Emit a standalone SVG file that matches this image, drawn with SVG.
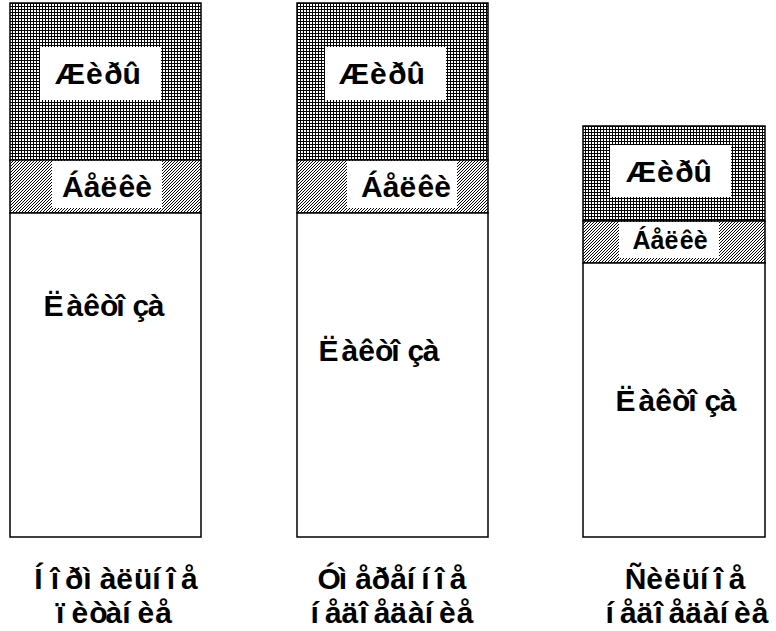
<svg xmlns="http://www.w3.org/2000/svg" width="776" height="631" viewBox="0 0 776 631">
<defs>
<pattern id="grid" width="3" height="3" patternUnits="userSpaceOnUse">
<rect width="3" height="3" fill="#000"/>
<rect x="1" y="1" width="2" height="2" fill="#fff"/>
</pattern>
<pattern id="hatch" width="3" height="3" patternUnits="userSpaceOnUse">
<rect width="3" height="3" fill="#fff"/>
<rect x="2" y="0" width="1" height="1" fill="#000"/>
<rect x="1" y="1" width="1" height="1" fill="#000"/>
<rect x="0" y="2" width="1" height="1" fill="#000"/>
</pattern>
</defs>
<style>
.sec{stroke:#000;stroke-width:1.5}
.g{fill:url(#grid)}
.h{fill:url(#hatch)}
.w{fill:#fff}
.box{fill:#fff;stroke:none}
text{font-family:"Liberation Sans",Arial,sans-serif;font-weight:bold;font-size:30px;fill:#000;text-anchor:middle}
</style>
<rect width="776" height="631" fill="#fff"/>
<g id="col1">
<rect class="sec g" x="10" y="3" width="191" height="157"/>
<rect class="sec h" x="10" y="160" width="191" height="53"/>
<rect class="sec w" x="10" y="213" width="191" height="324"/>
<rect class="box" x="40" y="47" width="121" height="53"/>
<rect class="box" x="52" y="161" width="110" height="47"/>
<text x="98" y="84" dx="0 1 1.5 0">Æèðû</text>
<text x="107" y="197" dx="0 0 0 1.5 0">Áåëêè</text>
<text x="104" y="316" dx="0 3 0 0 -2 8 -1.5">Ëàêòîçà</text>
<text x="116" y="589" dx="0 8 6 0 8 0 1 0 6 6">Íîðìàëüíîå</text>
<text x="114" y="623" dx="0 7 1 -2 0 7 1">ïèòàíèå</text>
</g>
<g id="col2">
<rect class="sec g" x="297" y="3" width="191" height="157"/>
<rect class="sec h" x="297" y="160" width="191" height="53"/>
<rect class="sec w" x="297" y="213" width="191" height="324"/>
<rect class="box" x="325" y="47" width="121" height="53"/>
<rect class="box" x="347" y="161" width="110" height="47"/>
<text x="382" y="84" dx="0 1 1.5 0">Æèðû</text>
<text x="406" y="197" dx="0 0 0 1.5 0">Áåëêè</text>
<text x="379" y="361" dx="0 3 0 0 -2 8 -1.5">Ëàêòîçà</text>
<text x="392" y="589" dx="0 -2 8 0 0 0 6 6 6">Óìåðåííîå</text>
<text x="392" y="623" dx="0 6 0 1 6 0 1 0 6 1">íåäîåäàíèå</text>
</g>
<g id="col3">
<rect class="sec g" x="583" y="126" width="182" height="95"/>
<rect class="sec h" x="583" y="221" width="182" height="42"/>
<rect class="sec w" x="583" y="263" width="182" height="274"/>
<rect class="box" x="610" y="145" width="121" height="52"/>
<rect class="box" x="619" y="222" width="100" height="36"/>
<text x="669" y="182" dx="0 1 1.5 0">Æèðû</text>
<text x="670" y="249" dx="0 0 0 1.5 0" style="font-size:25px">Áåëêè</text>
<text x="676" y="411" dx="0 3 0 0 -2 8 -1.5">Ëàêòîçà</text>
<text x="685" y="589" dx="0 0 1 1 0 6 6">Ñèëüíîå</text>
<text x="687" y="623" dx="0 6 0 1 6 0 1 0 6 1">íåäîåäàíèå</text>
</g>
<g id="connectors"></g>
</svg>
